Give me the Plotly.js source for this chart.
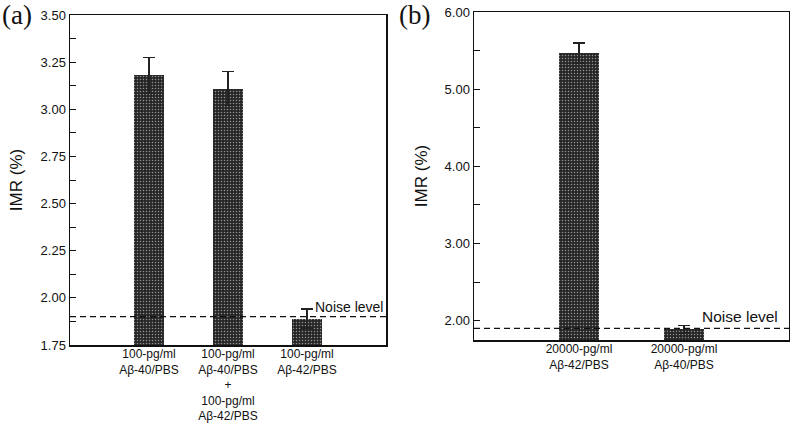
<!DOCTYPE html>
<html>
<head>
<meta charset="utf-8">
<script src="https://cdn.plot.ly/plotly-3.0.1.min.js"></script>
<style>html,body{margin:0;padding:0;background:#fff;}#chart{width:790px;height:425px;}</style>
</head>
<body>
<div id="chart"></div>
<script>
// Panel (a)
const catsA = ["100-pg/ml<br>Aβ-40/PBS", "100-pg/ml<br>Aβ-40/PBS<br>+<br>100-pg/ml<br>Aβ-42/PBS", "100-pg/ml<br>Aβ-42/PBS"];
const valsA = [3.18, 3.11, 1.89];
const errA = [0.095, 0.09, 0.05];
const noiseA = 1.90;
const yTicksA = [1.75, 2.00, 2.25, 2.50, 2.75, 3.00, 3.25, 3.50];

// Panel (b)
const catsB = ["20000-pg/ml<br>Aβ-42/PBS", "20000-pg/ml<br>Aβ-40/PBS"];
const valsB = [5.47, 1.89];
const errB = [0.13, 0.05];
const noiseB = 1.90;
const yTicksB = [2.00, 3.00, 4.00, 5.00, 6.00];

const posA = catsA.map((c, i) => i + 1);
const posB = catsB.map((c, i) => i + 1);

const barStyle = {
  color: '#2a2a2a',
  line: {width: 0},
  pattern: {shape: '.', fgcolor: '#ffffff', bgcolor: '#262626', size: 3, solidity: 0.2, fillmode: 'overlay'}
};

const traces = [
  {type: 'bar', x: posA, y: valsA, width: 0.39, marker: barStyle, xaxis: 'x', yaxis: 'y',
   error_y: {type: 'data', array: errA, visible: true, color: '#222', thickness: 1.5, width: 6}, hoverinfo: 'none'},
  {type: 'bar', x: posB, y: valsB, width: 0.39, marker: barStyle, xaxis: 'x2', yaxis: 'y2',
   error_y: {type: 'data', array: errB, visible: true, color: '#222', thickness: 1.5, width: 6}, hoverinfo: 'none'}
];

const W = 790, H = 425;
const tickFont = {family: 'Liberation Sans, Arial, sans-serif', size: 13, color: '#111'};
const catFont = {family: 'Liberation Sans, Arial, sans-serif', size: 12, color: '#111'};
const axBase = {showline: true, linecolor: '#111', linewidth: 1.5, mirror: true, zeroline: false, showgrid: false, fixedrange: true};

const layout = {
  width: W, height: H,
  margin: {l: 0, r: 0, t: 0, b: 0},
  paper_bgcolor: '#fff', plot_bgcolor: '#fff',
  showlegend: false,
  bargap: 0,
  xaxis: Object.assign({}, axBase, {
    domain: [70 / W, 386 / W], range: [0, 4], anchor: 'y',
    tickvals: posA, ticktext: catsA, ticks: '', tickfont: catFont, ticklabelstandoff: -3
  }),
  yaxis: Object.assign({}, axBase, {
    domain: [(H - 345) / H, (H - 15) / H], range: [1.75, 3.5], anchor: 'x',
    tickvals: yTicksA, tickformat: '.2f', ticks: 'inside', ticklen: 6, tickcolor: '#111', tickwidth: 1,
    minor: {dtick: 0.125, tick0: 1.75, ticks: 'inside', ticklen: 6, tickcolor: '#111', tickwidth: 1},
    tickfont: tickFont,
    title: {text: 'IMR (%)', font: {family: 'Liberation Sans, Arial, sans-serif', size: 17, color: '#111'}, standoff: 13}
  }),
  xaxis2: Object.assign({}, axBase, {
    domain: [474 / W, 789 / W], range: [0, 3], anchor: 'y2',
    tickvals: posB, ticktext: catsB, ticks: '', tickfont: catFont, ticklabelstandoff: -3
  }),
  yaxis2: Object.assign({}, axBase, {
    domain: [(H - 340) / H, (H - 12) / H], range: [1.75, 6.0], anchor: 'x2',
    tickvals: yTicksB, tickformat: '.2f', ticks: 'inside', ticklen: 6, tickcolor: '#111', tickwidth: 1,
    minor: {dtick: 0.5, tick0: 2, ticks: 'inside', ticklen: 6, tickcolor: '#111', tickwidth: 1},
    tickfont: tickFont,
    title: {text: 'IMR (%)', font: {family: 'Liberation Sans, Arial, sans-serif', size: 17, color: '#111'}, standoff: 12}
  }),
  shapes: [
    {type: 'line', xref: 'x domain', yref: 'y', x0: 0, x1: 1, y0: noiseA, y1: noiseA, line: {color: '#111', width: 1.3, dash: '6px,4px'}},
    {type: 'line', xref: 'x2 domain', yref: 'y2', x0: 0, x1: 1, y0: noiseB, y1: noiseB, line: {color: '#111', width: 1.3, dash: '6px,4px'}}
  ],
  annotations: [
    {text: 'Noise level', xref: 'x', yref: 'y', x: 3.08, y: 1.952, xanchor: 'left', yanchor: 'middle', showarrow: false,
     font: {family: 'Liberation Sans, Arial, sans-serif', size: 14, color: '#111'}},
    {text: 'Noise level', xref: 'x2', yref: 'y2', x: 2.91, y: 2.05, xanchor: 'right', yanchor: 'middle', showarrow: false,
     font: {family: 'Liberation Sans, Arial, sans-serif', size: 15.5, color: '#111'}},
    {text: '(a)', xref: 'paper', yref: 'paper', x: 0 / W, y: 1 - 15 / H, xanchor: 'left', yanchor: 'middle', showarrow: false,
     font: {family: 'Liberation Serif, Times New Roman, serif', size: 27, color: '#111'}},
    {text: '(b)', xref: 'paper', yref: 'paper', x: 397 / W, y: 1 - 15 / H, xanchor: 'left', yanchor: 'middle', showarrow: false,
     font: {family: 'Liberation Serif, Times New Roman, serif', size: 27, color: '#111'}}
  ]
};

Plotly.newPlot('chart', traces, layout, {displayModeBar: false, staticPlot: true});
</script>
</body>
</html>
